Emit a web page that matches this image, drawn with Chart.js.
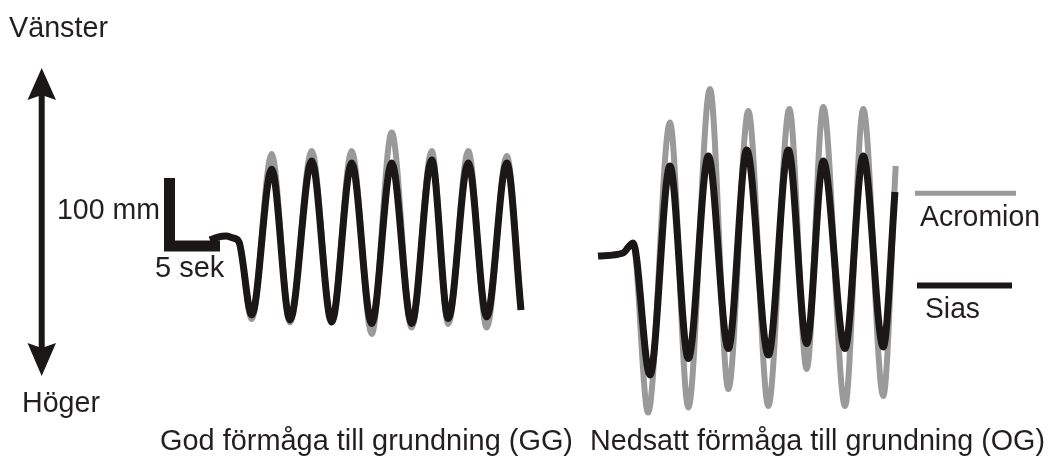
<!DOCTYPE html>
<html>
<head>
<meta charset="utf-8">
<script src="https://cdn.jsdelivr.net/npm/chart.js@4.4.1/dist/chart.umd.min.js"></script>
<style>
  html, body { margin: 0; padding: 0; background: #ffffff; }
  #wrap { position: relative; width: 1051px; height: 458px; }
  canvas { display: block; }
</style>
</head>
<body>
<div id="wrap"><canvas id="c" width="1051" height="458"></canvas></div>
<script>
// ---- Data (time in seconds, lateral displacement in mm) ----
// GG: God förmåga till grundning
const ggTime      = [4.01, 4.80, 5.59, 6.29, 6.88, 8.14, 10.12, 11.93, 14.08, 16.06, 18.04, 20.02, 22.00, 23.98, 25.96, 27.60, 29.58, 31.41, 33.39, 34.80];
const ggSias      = [8.8, 13.2, 14.7, 11.8, 5.9, -101.5, 113.0, -108.8, 125.0, -111.8, 122.1, -114.0, 122.1, -114.0, 126.5, -106.6, 122.1, -104.4, 122.1, -94.1];
const ggAcromion  = [8.8, 13.2, 14.7, 11.8, 5.9, -107.4, 135.3, -112.5, 139.7, -112.5, 139.7, -129.4, 166.9, -119.9, 139.7, -114.7, 139.7, -119.9, 132.4, -94.1];

// OG: Nedsatt förmåga till grundning
const ogSiasTime     = [42.43, 44.90, 45.89, 47.57, 49.55, 51.37, 53.35, 55.33, 57.15, 59.29, 61.27, 63.09, 64.73, 66.88, 68.69, 70.67, 71.83];
const ogSias         = [-14.7, -10.3, 4.4, -189.7, 117.6, -165.4, 132.4, -150.7, 141.2, -160.3, 141.2, -143.4, 125.0, -150.7, 132.4, -148.5, 79.4];
const ogAcromionTime = [42.43, 44.90, 45.89, 47.38, 49.55, 51.37, 53.51, 55.33, 57.31, 59.29, 61.37, 63.09, 64.73, 66.88, 68.69, 70.67, 71.90];
const ogAcromion     = [-14.7, -10.3, 4.4, -244.9, 181.6, -237.5, 230.9, -210.3, 198.5, -235.3, 201.5, -180.9, 204.4, -235.3, 201.5, -220.6, 117.6];

// Scale bar: 100 mm vertical, 5 sek horizontal
const scaleBarTime = [0, 0, 5];
const scaleBarMm   = [100, 0, 0];

// Labels
const seriesNames = ['Acromion', 'Sias'];
const groupLabels = ['God förmåga till grundning (GG)', 'Nedsatt förmåga till grundning (OG)'];
const directionLabels = ['Vänster', 'Höger'];
const scaleLabels = ['100 mm', '5 sek'];

// ---- Build chart ----
const GRAY = '#9a9a9a';
const BLACK = '#1b1716';
const TEXT = '#231f20';
const toPts = (xs, ys) => xs.map((x, i) => ({ x: x, y: ys[i] }));

function wave(data, color, width, order) {
  return {
    data: data, borderColor: color, borderWidth: width, pointRadius: 0,
    fill: false, cubicInterpolationMode: 'monotone', order: order,
    borderJoinStyle: 'round', borderCapStyle: 'butt'
  };
}

const overlay = {
  id: 'overlay',
  afterDatasetsDraw(chart) {
    const ctx = chart.ctx;
    ctx.save();
    // double arrow
    ctx.fillStyle = BLACK;
    ctx.strokeStyle = BLACK;
    ctx.lineWidth = 6;
    ctx.beginPath();
    ctx.moveTo(41.7, 95); ctx.lineTo(41.7, 348); ctx.stroke();
    ctx.beginPath();
    ctx.moveTo(41.7, 68); ctx.lineTo(56, 100); ctx.lineTo(41.7, 95); ctx.lineTo(27.5, 100); ctx.closePath(); ctx.fill();
    ctx.beginPath();
    ctx.moveTo(41.7, 376); ctx.lineTo(56, 343); ctx.lineTo(41.7, 348); ctx.lineTo(27.5, 343); ctx.closePath(); ctx.fill();

    // legend swatches
    ctx.lineCap = 'butt';
    ctx.strokeStyle = GRAY; ctx.lineWidth = 5;
    ctx.beginPath(); ctx.moveTo(915, 193.3); ctx.lineTo(1016, 193.3); ctx.stroke();
    ctx.strokeStyle = BLACK; ctx.lineWidth = 6;
    ctx.beginPath(); ctx.moveTo(917, 285.5); ctx.lineTo(1012, 285.5); ctx.stroke();

    // texts
    ctx.fillStyle = TEXT;
    ctx.font = '29px "Liberation Sans", Arial, sans-serif';
    ctx.textBaseline = 'alphabetic';
    ctx.textAlign = 'left';
    const t = (s, x, y, w) => ctx.fillText(s, x, y, w);
    t(directionLabels[0], 9, 37, 99);
    t(directionLabels[1], 22, 412, 78);
    t(scaleLabels[0], 57, 219, 103);
    t(scaleLabels[1], 155, 277, 71);
    t(seriesNames[0], 920, 226, 120);
    t(seriesNames[1], 925, 318, 55);
    t(groupLabels[0], 160, 450, 413);
    t(groupLabels[1], 590, 450, 455);
    ctx.restore();
  }
};

new Chart(document.getElementById('c'), {
  type: 'line',
  data: {
    datasets: [
      Object.assign(wave(toPts(ggTime, ggAcromion), GRAY, 6, 2), { label: seriesNames[0] + ' GG' }),
      Object.assign(wave(toPts(ggTime, ggSias), BLACK, 7, 1), { label: seriesNames[1] + ' GG' }),
      Object.assign(wave(toPts(ogAcromionTime, ogAcromion), GRAY, 6, 2), { label: seriesNames[0] + ' OG' }),
      Object.assign(wave(toPts(ogSiasTime, ogSias), BLACK, 7, 1), { label: seriesNames[1] + ' OG' }),
      {
        label: 'Skala', data: toPts(scaleBarTime, scaleBarMm), order: 0,
        borderColor: BLACK, borderWidth: 11, pointRadius: 0, tension: 0,
        borderJoinStyle: 'miter', borderCapStyle: 'butt', fill: false
      }
    ]
  },
  options: {
    responsive: false,
    devicePixelRatio: 1,
    animation: false,
    layout: { padding: 0 },
    plugins: { legend: { display: false }, tooltip: { enabled: false } },
    scales: {
      x: { type: 'linear', display: false, min: -16.782, max: 87.277 },
      y: { type: 'linear', display: false, min: -311.76, max: 361.76 }
    }
  },
  plugins: [overlay]
});
</script>
</body>
</html>
